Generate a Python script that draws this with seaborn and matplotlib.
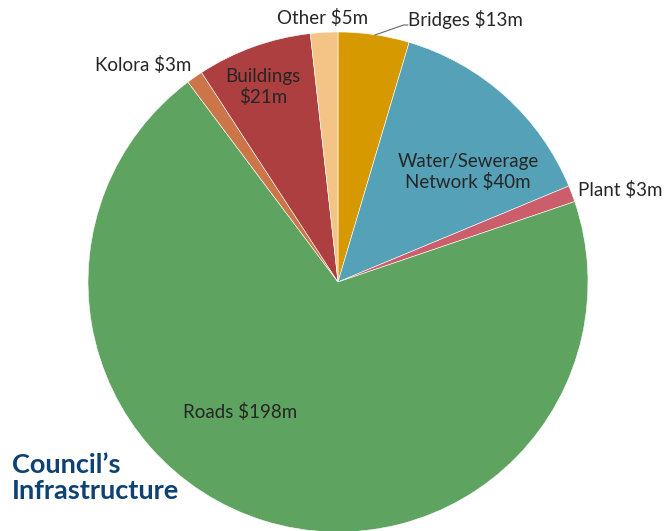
import matplotlib
matplotlib.use('Agg')
import matplotlib.pyplot as plt
import seaborn as sns

# data, clockwise from 12 o'clock
categories = ['Bridges', 'Water/Sewerage\nNetwork', 'Plant', 'Roads', 'Kolora', 'Buildings', 'Other']
values = [13, 40, 3, 198, 3, 21, 5]
colors = ['#D69A00', '#55A1B7', '#CC5E6C', '#5EA35F', '#CB7549', '#AD3F40', '#F4C386']

# label placement (data units, pie radius = 1)
label_pos = {
    'Bridges': (0.28, 1.05, 'left'),
    'Water/Sewerage\nNetwork': (0.52, 0.44, 'center'),
    'Plant': (0.96, 0.37, 'left'),
    'Roads': (-0.39, -0.52, 'center'),
    'Kolora': (-0.78, 0.87, 'center'),
    'Buildings': (-0.30, 0.78, 'center'),
    'Other': (-0.06, 1.056, 'center'),
}

sns.set_theme(style='white')
plt.rcParams['font.family'] = ['Lato', 'DejaVu Sans']

fig = plt.figure(figsize=(6.65, 5.31), dpi=100)
ax = fig.add_axes([88 / 665, -1 / 531, 500 / 665, 500 / 531])

wedges, _ = ax.pie(values, colors=sns.color_palette(colors), startangle=90,
                   counterclock=False, wedgeprops=dict(edgecolor='white', linewidth=0.4))
ax.set_xlim(-1, 1)
ax.set_ylim(-1, 1)
ax.set_aspect('auto')
ax.axis('off')

for cat, val in zip(categories, values):
    x, y, ha = label_pos[cat]
    if cat == 'Buildings':
        txt = f'{cat}\n${val}m'
    else:
        txt = f'{cat} ${val}m'
    ax.text(x, y, txt, ha=ha, va='center', fontsize=13.5, color='#262626',
            linespacing=1.15, clip_on=False)

# leader line for Bridges
ax.plot([0.148, 0.262, 0.28], [0.988, 1.028, 1.028], color='#666666', lw=0.8, clip_on=False)

fig.text(12 / 665, 0.10, "Council’s\nInfrastructure", ha='left', va='center',
         fontsize=19.5, fontweight='bold', color='#0E4174', linespacing=1.1)

fig.savefig('out.png', dpi=100)
